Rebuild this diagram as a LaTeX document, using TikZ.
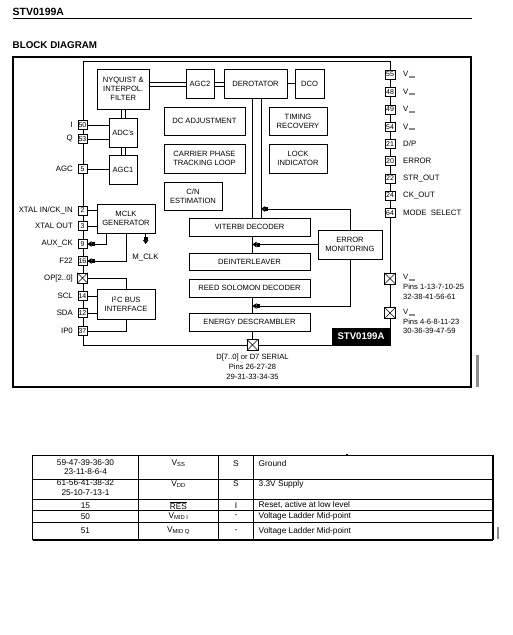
\documentclass[tikz,border=0pt]{standalone}
\usepackage{fontspec}
\setmainfont{Liberation Sans}
\usetikzlibrary{arrows.meta}
\newcommand\vgr{V\kern0.6pt\raisebox{-1.2pt}{\textcolor{black!45}{\rule{6pt}{1.8pt}}}}
\begin{document}
\begin{tikzpicture}[x=1pt,y=-1pt,
  blk/.style={draw, line width=0.6pt, inner sep=0pt, align=center, font=\fontsize{7.6}{8.8}\selectfont},
  pinbox/.style={draw, fill=white, line width=0.5pt, minimum width=9.5pt, minimum height=9pt, inner sep=0pt, font=\fontsize{7}{7}\selectfont},
  xpin/.style={draw, fill=white, line width=0.5pt, minimum width=11pt, minimum height=11pt, inner sep=0pt},
  lbl/.style={font=\fontsize{7.8}{9}\selectfont, inner sep=0pt},
  wire/.style={line width=0.6pt},
  arr/.style={wire, -{Square[length=3pt,width=3.2pt] Triangle[length=4pt,width=5.5pt]}},
  tbl/.style={font=\fontsize{8.3}{9}\selectfont, inner sep=0pt},
]
\useasboundingbox (0,0) rectangle (513,635);
\fill[white] (0,0) rectangle (513,635);

% header
\node[anchor=west, inner sep=0pt, font=\bfseries\fontsize{10.5}{12}\selectfont] (title) at (12.5,12) {STV0199A};
\draw[line width=0.8pt] (12.5,18.5) -- (471.5,18.5);
\node[anchor=west, inner sep=0pt, font=\bfseries\fontsize{9.8}{12}\selectfont] (bd) at (12.5,45) {BLOCK DIAGRAM};

% outer frame
\draw[line width=2pt] (12.5,57) rectangle (471,386.5);
\fill[black!45] (476,355) rectangle (479,386.5);

% chip outline
\draw[wire] (83,61) rectangle (390,345);

% blocks
\node[blk, minimum width=52.5pt, minimum height=40pt] (nyq) at (123.25,89) {NYQUIST \&\\INTERPOL.\\FILTER};
\node[blk, minimum width=28pt, minimum height=29pt] (adc) at (123,132.5) {ADC’s};
\node[blk, minimum width=28pt, minimum height=29pt] (agc1) at (123,169.5) {AGC1};
\node[blk, minimum width=28pt, minimum height=29pt] (agc2) at (200,83.5) {AGC2};
\node[blk, minimum width=63pt, minimum height=29pt] (derot) at (255.5,83.5) {DEROTATOR};
\node[blk, minimum width=29pt, minimum height=29pt] (dco) at (309.5,83.5) {DCO};
\node[blk, minimum width=81pt, minimum height=28pt] (dcadj) at (204.5,121) {DC ADJUSTMENT};
\node[blk, minimum width=58pt, minimum height=28pt] (timing) at (298,121) {TIMING\\RECOVERY};
\node[blk, minimum width=81pt, minimum height=29pt] (carrier) at (204.5,158.5) {CARRIER PHASE\\TRACKING LOOP};
\node[blk, minimum width=58pt, minimum height=29pt] (lock) at (298,158.5) {LOCK\\INDICATOR};
\node[blk, minimum width=58pt, minimum height=28pt] (cn) at (193,196) {C/N\\ESTIMATION};
\node[blk, minimum width=58pt, minimum height=29pt] (mclk) at (126,218.5) {MCLK\\GENERATOR};
\node[blk, minimum width=58pt, minimum height=30pt] (i2c) at (126,304) {I\textsuperscript{2}C BUS\\INTERFACE};
\node[blk, minimum width=121pt, minimum height=18pt] (viterbi) at (249.5,227) {VITERBI DECODER};
\node[blk, minimum width=121pt, minimum height=17pt] (deint) at (249.5,261.5) {DEINTERLEAVER};
\node[blk, minimum width=121pt, minimum height=18pt] (reed) at (249.5,288) {REED SOLOMON DECODER};
\node[blk, minimum width=121pt, minimum height=18pt] (energy) at (249.5,322) {ENERGY DESCRAMBLER};
\node[blk, minimum width=64pt, minimum height=29pt] (errmon) at (350,244.5) {ERROR\\MONITORING};
\node[fill=black, text=white, inner sep=0pt, minimum width=58pt, minimum height=17pt, font=\bfseries\fontsize{9.6}{10}\selectfont] (chiplbl) at (361,336.5) {STV0199A};

% left pins
\foreach \n/\y/\t in {p50/125/50, p53/139/53, p5/169/5, p2/210.5/2, p3/226/3, p9/244/9, p16/261/16, p14/296/14, p12/313/12, p37/331/37}
  \node[pinbox] (\n) at (82.5,\y) {\t};
\node[xpin, minimum width=10pt, minimum height=10pt] (pop) at (82.5,278) {};
\draw[line width=0.5pt] (pop.north west) -- (pop.south east) (pop.north east) -- (pop.south west);

\foreach \n/\y/\t in {p50/125/I, p53/139/Q, p5/169/AGC, p2/210.5/{XTAL IN/CK\_IN}, p3/226/XTAL OUT, p9/244/AUX\_CK, p16/261/F22, pop/278/OP[2..0], p14/296/SCL, p12/313/SDA, p37/331/IP0}
  \node[lbl, anchor=east] (l\n) at (73,\y) {\t};

% right pins
\foreach \n/\y/\t in {p55/74.5/55, p48/92/48, p49/109.5/49, p54/127/54, p21/144/21, p20/161/20, p22/178.5/22, p24/195.5/24, p64/213/64}
  \node[pinbox] (\n) at (390,\y) {\t};
\foreach \n/\y in {p55/74.5, p48/92, p49/109.5, p54/127}
  \node[lbl, anchor=west] (l\n) at (403,\y) {\vgr};
\node[lbl, anchor=west] (lp21) at (403,144) {D/P};
\node[lbl, anchor=west] (lp20) at (403,161) {ERROR};
\node[lbl, anchor=west] (lp22) at (403,178.5) {STR\_OUT};
\node[lbl, anchor=west] (lp24) at (403,195.5) {CK\_OUT};
\node[lbl, anchor=west] (lp64) at (403,213) {MODE\ \ SELECT};

\node[xpin] (vdd) at (390,278.5) {};
\draw[line width=0.5pt] (vdd.north west) -- (vdd.south east) (vdd.north east) -- (vdd.south west);
\node[xpin] (vss) at (390,313) {};
\draw[line width=0.5pt] (vss.north west) -- (vss.south east) (vss.north east) -- (vss.south west);
\node[lbl, anchor=north west, align=left, font=\fontsize{7.6}{9.6}\selectfont] (lvdd) at (403,274.5) {\vgr\\Pins 1-13-7-10-25\\32-38-41-56-61};
\node[lbl, anchor=north west, align=left, font=\fontsize{7.6}{9.6}\selectfont] (lvss) at (403,309) {\vgr\\Pins 4-6-8-11-23\\30-36-39-47-59};

% bottom data pin
\node[xpin] (dout) at (252.5,345) {};
\draw[line width=0.5pt] (dout.north west) -- (dout.south east) (dout.north east) -- (dout.south west);
\node[lbl, anchor=north, align=center, font=\fontsize{7.6}{10}\selectfont] (ldout) at (252.5,353.5) {D[7..0] or D7 SERIAL\\Pins 26-27-28\\29-31-33-34-35};

% connections: front end
\draw[wire] (nyq.east |- 0,82) -- (agc2.west |- 0,82);
\draw[wire] (nyq.east |- 0,86) -- (agc2.west |- 0,86);
\draw[wire] (agc2.east |- 0,82) -- (derot.west |- 0,82);
\draw[wire] (agc2.east |- 0,86) -- (derot.west |- 0,86);
\draw[wire] (derot.east) -- (dco.west);
\draw[wire] (nyq.south -| 121,0) -- (adc.north -| 121,0);
\draw[wire] (nyq.south -| 125.5,0) -- (adc.north -| 125.5,0);
\draw[wire] (adc.south -| 121,0) -- (agc1.north -| 121,0);
\draw[wire] (adc.south -| 125.5,0) -- (agc1.north -| 125.5,0);
\draw[wire] (p50.east) -- (p50.east -| adc.west);
\draw[wire] (p53.east) -- (p53.east -| adc.west);
\draw[wire] (p5.east) -- (p5.east -| agc1.west);

% derotator to viterbi
\draw[wire] (derot.south -| 252.5,0) -- (viterbi.north -| 252.5,0);
\draw[wire] (derot.south -| 261,0) -- (viterbi.north -| 261,0);

% mclk
\draw[wire] (p2.east) -- (p2.east -| mclk.west);
\draw[wire] (p3.east) -- (p3.east -| mclk.west);
\draw[arr] (mclk.south -| 106.7,0) |- (p9.east);
\draw[arr] (mclk.south -| 126.7,0) |- (p16.east);
\coordinate (mclkend) at (145.7,244);
\draw[arr] (mclk.south -| mclkend) -- (mclkend);
\node[lbl] (lmclk) at (145.5,257.5) {M\_CLK};

% i2c
\draw[wire] (pop.east) -| (i2c.north -| 126.7,0);
\draw[wire] (p14.east) -- (p14.east -| i2c.west);
\draw[wire] (p12.east) -- (p12.east -| i2c.west);
\draw[wire] (p37.east) -| (i2c.south -| 126.7,0);

% backend chain
\draw[wire] (viterbi.south -| 252.5,0) -- (deint.north -| 252.5,0);
\draw[wire] (reed.south -| 252.5,0) -- (energy.north -| 252.5,0);
\draw[wire] (energy.south -| 252.5,0) -- (dout.north);
\coordinate (e1) at (261,209);
\coordinate (e2) at (252.5,244.5);
\coordinate (e3) at (252.5,306);
\draw[arr] (errmon.north) |- (e1);
\draw[arr] (errmon.west) -- (e2);
\draw[arr] (errmon.south) |- (e3);

% table
\draw[line width=0.5pt] (32.5,455) -- (493,455);
\draw[line width=0.5pt] (32.5,479.5) -- (493,479.5);
\draw[line width=0.5pt] (32.5,499.5) -- (493,499.5);
\draw[line width=0.5pt] (32.5,510.5) -- (493,510.5);
\draw[line width=0.5pt] (32.5,522) -- (493,522);
\draw[line width=1.6pt] (32.5,540) -- (493,540);
\draw[line width=1.2pt] (32.5,455) -- (32.5,540);
\draw[line width=1.2pt] (493,455) -- (493,540);
\foreach \x in {138.5,218.5,253.5} \draw[line width=0.6pt] (\x,455) -- (\x,540);
\draw[line width=0.5pt] (345.5,453.8) -- (348,453.8);
\fill[black!45] (496.5,527) rectangle (498.5,539);

\node[tbl, align=center, font=\fontsize{8.3}{9.5}\selectfont, anchor=north] at (85.5,459) {59-47-39-36-30\\23-11-8-6-4};
\node[tbl] at (178.5,463.5) {V\textsubscript{SS}};
\node[tbl] at (236,463.5) {S};
\node[tbl, anchor=west] at (258.5,463.5) {Ground};

\node[tbl, align=center, font=\fontsize{8.3}{9.5}\selectfont, anchor=north] at (85.5,479.5) {61-56-41-38-32\\25-10-7-13-1};
\node[tbl] at (178.5,484) {V\textsubscript{DD}};
\node[tbl] at (236,484) {S};
\node[tbl, anchor=west] at (258.5,484) {3.3V Supply};

\node[tbl] at (85.5,505.5) {15};
\node[tbl] at (178.5,505.5) {$\overline{\mbox{RES}}$};
\node[tbl] at (236,505.5) {I};
\node[tbl, anchor=west] at (258.5,505.5) {Reset, active at low level};

\node[tbl] at (85.5,516.5) {50};
\node[tbl] at (178.5,516.5) {V\textsubscript{MID I}};
\node[tbl] at (236,516.5) {-};
\node[tbl, anchor=west] at (258.5,516.5) {Voltage Ladder Mid-point};

\node[tbl] at (85.5,531) {51};
\node[tbl] at (178.5,531) {V\textsubscript{MID Q}};
\node[tbl] at (236,531) {-};
\node[tbl, anchor=west] at (258.5,531) {Voltage Ladder Mid-point};
\end{tikzpicture}
\end{document}
